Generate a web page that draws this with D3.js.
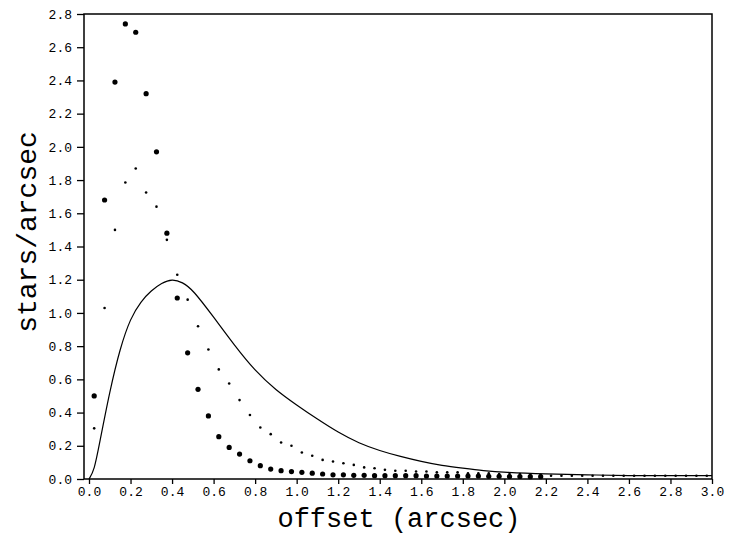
<!DOCTYPE html>
<html>
<head>
<meta charset="utf-8">
<script src="https://cdn.jsdelivr.net/npm/d3@7"></script>
<style>
  body { margin: 0; background: #fff; }
  text { font-family: "Courier New", "Liberation Mono", monospace; fill: #000; }
</style>
</head>
<body>
<div id="chart"></div>
<script>
// bin centres (arcsec)
const offsets = [0.025, 0.075, 0.125, 0.175, 0.225, 0.275, 0.325, 0.375, 0.425, 0.475,
    0.525, 0.575, 0.625, 0.675, 0.725, 0.775, 0.825, 0.875, 0.925, 0.975,
    1.025, 1.075, 1.125, 1.175, 1.225, 1.275, 1.325, 1.375, 1.425, 1.475,
    1.525, 1.575, 1.625, 1.675, 1.725, 1.775, 1.825, 1.875, 1.925, 1.975,
    2.025, 2.075, 2.125, 2.175, 2.225, 2.275, 2.325, 2.375, 2.425, 2.475,
    2.525, 2.575, 2.625, 2.675, 2.725, 2.775, 2.825, 2.875, 2.925, 2.975];

// big dots
const bigDots = [0.50, 1.68, 2.39, 2.74, 2.69, 2.32, 1.97, 1.48, 1.09, 0.76,
    0.54, 0.38, 0.255, 0.19, 0.15, 0.11, 0.08, 0.06, 0.05, 0.045,
    0.04, 0.035, 0.03, 0.025, 0.025, 0.022, 0.022, 0.02, 0.02, 0.02,
    0.02, 0.02, 0.018, 0.018, 0.018, 0.018, 0.018, 0.018, 0.016, 0.016,
    0.015, 0.015, 0.014, 0.014];

// small dots
const smallDots = [0.305, 1.03, 1.50, 1.785, 1.87, 1.725, 1.64, 1.44, 1.23, 1.08,
    0.92, 0.78, 0.66, 0.575, 0.475, 0.385, 0.31, 0.27, 0.22, 0.20,
    0.16, 0.14, 0.115, 0.105, 0.095, 0.085, 0.07, 0.065, 0.055, 0.05,
    0.05, 0.045, 0.045, 0.04, 0.04, 0.04, 0.035, 0.035, 0.035, 0.03,
    0.03, 0.03, 0.025, 0.025, 0.02, 0.02, 0.02, 0.02, 0.02, 0.02,
    0.02, 0.02, 0.02, 0.02, 0.02, 0.02, 0.02, 0.02, 0.02, 0.02];

// model curve
const curveX = [0, 0.025, 0.05, 0.1, 0.15, 0.2, 0.25, 0.3, 0.35, 0.4, 0.45, 0.5, 0.6, 0.7, 0.8, 0.9,
    1.0, 1.1, 1.2, 1.3, 1.4, 1.5, 1.6, 1.7, 1.8, 1.9, 2.0, 2.2, 2.4, 2.6, 2.8, 3.0];
const curveY = [0, 0.05, 0.21, 0.53, 0.79, 0.97, 1.07, 1.135, 1.18, 1.205, 1.185, 1.14, 0.975, 0.805, 0.65, 0.535,
    0.445, 0.36, 0.28, 0.215, 0.17, 0.135, 0.105, 0.08, 0.065, 0.05, 0.04, 0.03, 0.025, 0.02, 0.02, 0.02];

const xTicks = [0, 0.2, 0.4, 0.6, 0.8, 1.0, 1.2, 1.4, 1.6, 1.8, 2.0, 2.2, 2.4, 2.6, 2.8, 3.0];
const yTicks = [0, 0.2, 0.4, 0.6, 0.8, 1.0, 1.2, 1.4, 1.6, 1.8, 2.0, 2.2, 2.4, 2.6, 2.8];

const W = 730, H = 542;

const svg = d3.select("#chart")
    .append("svg")
    .attr("width", W)
    .attr("height", H);

const x = d3.scaleLinear().domain([0, 3]).range([89, 712]);
const y = d3.scaleLinear().domain([0, 2.8]).range([479, 14]);

// frame
svg.append("rect")
    .attr("x", 84)
    .attr("y", y(2.8))
    .attr("width", x(3) - 84)
    .attr("height", y(0) - y(2.8))
    .attr("fill", "none")
    .attr("stroke", "#000")
    .attr("stroke-width", 1.5);

// axes
const xAxis = svg.append("g")
    .attr("transform", `translate(0, ${y(0)})`)
    .call(d3.axisBottom(x).tickValues(xTicks).tickSize(5).tickPadding(3).tickFormat(d3.format(".1f")));
xAxis.select(".domain").remove();
xAxis.selectAll("line").attr("stroke-width", 1.3);
xAxis.selectAll("text").attr("font-size", 13).style("font-family", null);

const yAxis = svg.append("g")
    .attr("transform", "translate(84, 0)")
    .call(d3.axisLeft(y).tickValues(yTicks).tickSize(7).tickPadding(5).tickFormat(d3.format(".1f")));
yAxis.select(".domain").remove();
yAxis.selectAll("line").attr("stroke-width", 1.3);
yAxis.selectAll("text").attr("font-size", 13).style("font-family", null);

// curve
const line = d3.line()
    .x((d, i) => x(curveX[i]))
    .y(d => y(d))
    .curve(d3.curveBasis);
svg.append("path")
    .datum(curveY)
    .attr("d", line)
    .attr("fill", "none")
    .attr("stroke", "#000")
    .attr("stroke-width", 1.2);

// big dots
svg.append("g").selectAll("circle")
    .data(bigDots)
    .enter()
    .append("circle")
    .attr("cx", (d, i) => x(offsets[i]))
    .attr("cy", d => y(d))
    .attr("r", 2.6)
    .attr("fill", "#000");

// small dots
svg.append("g").selectAll("circle")
    .data(smallDots)
    .enter()
    .append("circle")
    .attr("cx", (d, i) => x(offsets[i]))
    .attr("cy", d => y(d))
    .attr("r", 1.3)
    .attr("fill", "#000");

// axis titles
svg.append("text")
    .attr("x", 399)
    .attr("y", 527)
    .attr("text-anchor", "middle")
    .attr("font-size", 27)
    .text("offset (arcsec)");

svg.append("text")
    .attr("transform", "translate(36, 232) rotate(-90)")
    .attr("text-anchor", "middle")
    .attr("font-size", 28)
    .text("stars/arcsec");
</script>
</body>
</html>
